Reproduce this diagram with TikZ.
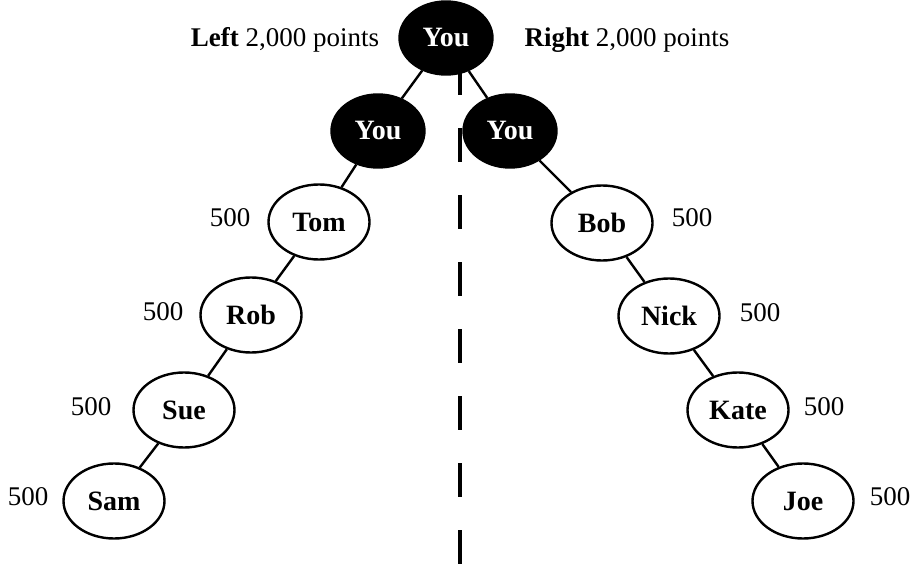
\documentclass[tikz,border=0pt]{standalone}
\usepackage{fontspec}
\setmainfont{Liberation Serif}
\usetikzlibrary{shapes.geometric}
\begin{document}
\begin{tikzpicture}[x=1bp,y=-1bp,
  person/.style={ellipse,draw=black,line width=2.4bp,fill=white,minimum width=101bp,minimum height=75bp,inner sep=0pt,font=\fontsize{28bp}{32bp}\selectfont\bfseries},
  me/.style={ellipse,draw=black,line width=2.4bp,fill=black,text=white,minimum width=93bp,minimum height=73bp,inner sep=0pt,font=\fontsize{28bp}{32bp}\selectfont\bfseries},
  pts/.style={inner sep=0pt,font=\fontsize{27bp}{32bp}\selectfont},
  link/.style={line width=2.4bp},
  divider/.style={line width=3.8bp,dash pattern=on 34bp off 33bp}]
\useasboundingbox (0,0) rectangle (912,565);
\coordinate (dtop) at (460,61);
\coordinate (dbot) at (460,565);
\draw[divider] (dtop) -- (dbot);
\node[me] (top) at (446,38) {You};
\node[me] (ly) at (378,131) {You};
\node[me] (ry) at (510,131) {You};
\node[person] (tom) at (319,222) {Tom};
\node[person] (rob) at (251,315) {Rob};
\node[person] (sue) at (184,410) {Sue};
\node[person] (sam) at (114,501) {Sam};
\node[person] (bob) at (602,223) {Bob};
\node[person] (nick) at (669,316) {Nick};
\node[person] (kate) at (738,410) {Kate};
\node[person] (joe) at (803,501) {Joe};
\node[pts] (lefttxt) at (285,40) {\textbf{Left} 2,000 points};
\node[pts] (righttxt) at (627,40) {\textbf{Right} 2,000 points};
\node[pts] (p1) at (230,218) {500};
\node[pts] (p2) at (163,312) {500};
\node[pts] (p3) at (91,407) {500};
\node[pts] (p4) at (28,497) {500};
\node[pts] (p5) at (692,218) {500};
\node[pts] (p6) at (760,313) {500};
\node[pts] (p7) at (824,407) {500};
\node[pts] (p8) at (890,497) {500};
\draw[link] (top) -- (ly);
\draw[link] (top) -- (ry);
\draw[link] (ly) -- (tom);
\draw[link] (tom) -- (rob);
\draw[link] (rob) -- (sue);
\draw[link] (sue) -- (sam);
\draw[link] (ry) -- (bob);
\draw[link] (bob) -- (nick);
\draw[link] (nick) -- (kate);
\draw[link] (kate) -- (joe);
\end{tikzpicture}
\end{document}
